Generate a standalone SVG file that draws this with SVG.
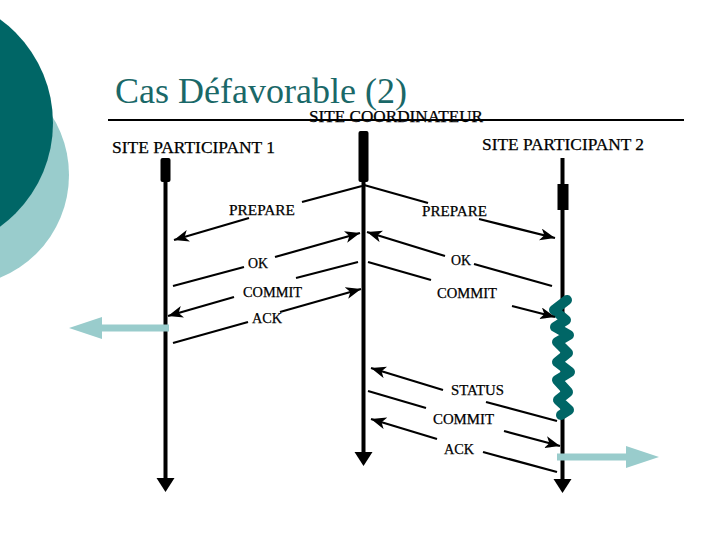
<svg xmlns="http://www.w3.org/2000/svg" width="720" height="540" viewBox="0 0 720 540">
<style>
text{font-family:"Liberation Serif","Times New Roman",serif;fill:#000;font-size:15px;stroke:#000;stroke-width:.25}
#title text{font-size:36px;fill:#1a6868;stroke:none}
.h{font-size:16px}
.l{stroke:#000;stroke-width:2.200;fill:none}
.a{marker-end:url(#h)}
.life{stroke:#000;stroke-width:4;fill:none;marker-end:url(#big)}
.bar{fill:#000}
.esc{stroke:#99cccc;stroke-width:7;fill:none;marker-end:url(#esc)}
</style>
<defs>
<marker id="h" markerUnits="userSpaceOnUse" markerWidth="18" markerHeight="14" refX="15" refY="6" orient="auto"><path d="M0 0L15 6L0 12L4 6Z" fill="#000"/></marker>
<marker id="big" markerUnits="userSpaceOnUse" markerWidth="20" markerHeight="20" refX="1" refY="9" orient="auto"><path d="M0 0L14 9L0 18Z" fill="#000"/></marker>
<marker id="esc" markerUnits="userSpaceOnUse" markerWidth="36" markerHeight="24" refX="1" refY="11" orient="auto"><path d="M0 0L33 11L0 22Z" fill="#99cccc"/></marker>
</defs>
<circle cx="-42" cy="175" r="111" fill="#99cccc"/>
<circle cx="-75" cy="123" r="128" fill="#006666"/>
<g id="title"><text x="115" y="103">Cas Défavorable (2)</text></g>
<g id="site-coordinateur">
<text class="h" x="309" y="122" textLength="174" lengthAdjust="spacingAndGlyphs">SITE COORDINATEUR</text>
<line x1="108" y1="120" x2="684" y2="120" stroke="#000" stroke-width="2"/>
<rect class="bar" x="358.500" y="131" width="10" height="51" rx="2"/>
<line class="life" x1="363.500" y1="180" x2="363.500" y2="453"/>
</g>
<g id="site-participant-1">
<text class="h" x="112" y="153" textLength="163" lengthAdjust="spacingAndGlyphs">SITE PARTICIPANT 1</text>
<rect class="bar" x="160.500" y="158" width="10" height="24" rx="2"/>
<line class="life" x1="165.500" y1="180" x2="165.500" y2="479"/>
<line class="esc" x1="169" y1="328" x2="101" y2="328"/>
</g>
<g id="site-participant-2">
<text class="h" x="482" y="150" textLength="162" lengthAdjust="spacingAndGlyphs">SITE PARTICIPANT 2</text>
<rect class="bar" x="557.500" y="184" width="11" height="26"/>
<line class="life" x1="562.500" y1="158" x2="562.500" y2="480"/>
<polyline points="567,300 554,310 566,320 555,327 569,335 557,342 568,353 557,362 570,372 557,380 568,392 558,400 569,410 561,415" fill="none" stroke="#006666" stroke-width="10" stroke-linejoin="round" stroke-linecap="round"/>
<line class="esc" x1="557" y1="457" x2="627" y2="457"/>
</g>
<g id="connectors">
<line class="l" x1="362" y1="186" x2="302" y2="202"/><line class="l a" x1="249" y1="218" x2="174" y2="240"/>
<line class="l" x1="173" y1="286" x2="244" y2="267"/><line class="l a" x1="275" y1="257" x2="360" y2="233"/>
<line class="l" x1="358" y1="262" x2="296" y2="278"/><line class="l a" x1="234" y1="297" x2="168" y2="316"/>
<line class="l" x1="173" y1="343" x2="248" y2="322"/><line class="l a" x1="280" y1="312" x2="361" y2="289"/>
<line class="l" x1="364" y1="185" x2="428" y2="203"/><line class="l a" x1="479" y1="219" x2="555" y2="238"/>
<line class="l a" x1="445" y1="256" x2="367" y2="232"/><line class="l" x1="474" y1="264" x2="552" y2="286"/>
<line class="l" x1="368" y1="262" x2="431" y2="280"/><line class="l a" x1="512" y1="306" x2="555" y2="317"/>
<line class="l a" x1="443" y1="390" x2="371" y2="368"/><line class="l" x1="486" y1="402" x2="557" y2="421"/>
<line class="l" x1="368" y1="391" x2="426" y2="408"/><line class="l a" x1="504" y1="431" x2="560" y2="446"/>
<line class="l a" x1="437" y1="439" x2="371" y2="419"/><line class="l" x1="483" y1="452" x2="557" y2="472"/>
</g>
<g id="labels">
<text x="229" y="215" textLength="66" lengthAdjust="spacingAndGlyphs">PREPARE</text>
<text x="422" y="216" textLength="65" lengthAdjust="spacingAndGlyphs">PREPARE</text>
<text x="248" y="268" textLength="20" lengthAdjust="spacingAndGlyphs">OK</text>
<text x="451" y="265" textLength="20" lengthAdjust="spacingAndGlyphs">OK</text>
<text x="243" y="297" textLength="59" lengthAdjust="spacingAndGlyphs">COMMIT</text>
<text x="437" y="298" textLength="60" lengthAdjust="spacingAndGlyphs">COMMIT</text>
<text x="252" y="323" textLength="30" lengthAdjust="spacingAndGlyphs">ACK</text>
<text x="451" y="395" textLength="53" lengthAdjust="spacingAndGlyphs">STATUS</text>
<text x="433" y="424" textLength="61" lengthAdjust="spacingAndGlyphs">COMMIT</text>
<text x="444" y="454" textLength="30" lengthAdjust="spacingAndGlyphs">ACK</text>
</g>
</svg>
